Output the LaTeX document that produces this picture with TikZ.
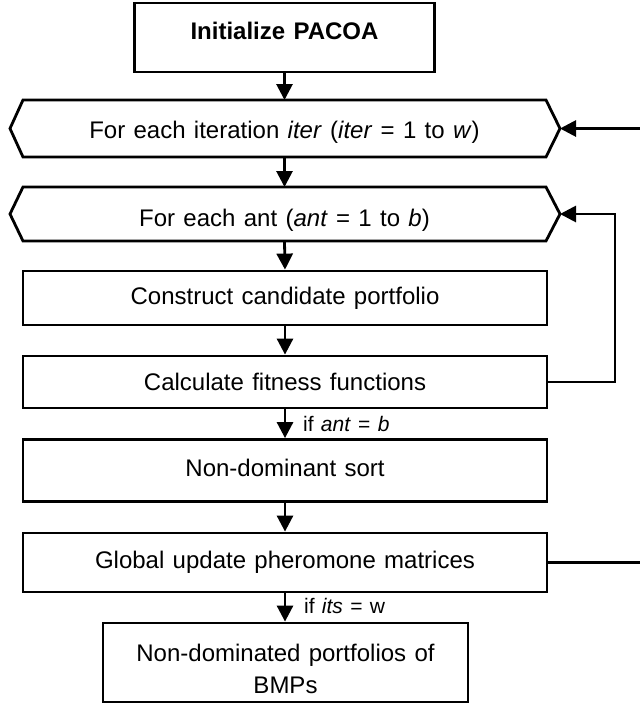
\documentclass[tikz,border=0pt]{standalone}
\usepackage{fontspec}
\setmainfont{Liberation Sans}[WordSpace=1.25]
\usetikzlibrary{arrows.meta,calc}
\newcommand\moveup[2]{\raisebox{0pt}[\height][\dimexpr\depth+#1\relax]{#2}}
\newcommand\movedown[2]{\raisebox{0pt}[\dimexpr\height+#1\relax][\depth]{#2}}
\begin{document}
\begin{tikzpicture}[x=1pt,y=-1pt,
  box/.style={draw,line width=2.8pt,rectangle,inner sep=0pt,align=center,font=\fontsize{24}{32}\selectfont},
  hexnode/.style={inner sep=0pt,outer sep=0pt,font=\fontsize{24}{30}\selectfont},
  arr/.style={line width=2.8pt,-{Triangle[width=16pt,length=16pt]}},
  conn/.style={line width=2.8pt},
  lab/.style={anchor=west,inner sep=0pt,font=\fontsize{21}{25}\selectfont}]
\useasboundingbox (0,0) rectangle (640,705);
\node[box,minimum width=300pt,minimum height=69pt] (init) at (284.5,37.5) {\moveup{13pt}{\bfseries Initialize PACOA}};
\node[hexnode,minimum width=523pt,minimum height=57pt] (iter) at (284.5,128.5) {\movedown{7pt}{For each iteration \textit{iter} (\textit{iter} = 1 to \textit{w})}};
\coordinate (iterR) at ($(iter.east)+(14,0)$);
\coordinate (iterL) at ($(iter.west)+(-13,0)$);
\draw[conn,line join=miter] (iter.north west) -- (iter.north east) -- (iterR) -- (iter.south east) -- (iter.south west) -- (iterL) -- cycle;
\node[hexnode,minimum width=523pt,minimum height=54pt] (ant) at (284.5,214) {\movedown{13pt}{For each ant (\textit{ant} = 1 to \textit{b})}};
\coordinate (antR) at ($(ant.east)+(14,0)$);
\coordinate (antL) at ($(ant.west)+(-13,0)$);
\draw[conn,line join=miter] (ant.north west) -- (ant.north east) -- (antR) -- (ant.south east) -- (ant.south west) -- (antL) -- cycle;
\node[box,minimum width=524pt,minimum height=54pt] (cons) at (285,298) {Construct candidate portfolio};
\node[box,minimum width=524pt,minimum height=52pt] (calc) at (285,382) {Calculate fitness functions};
\node[box,minimum width=524pt,minimum height=62pt] (sort) at (285,470.5) {\moveup{5pt}{Non-dominant sort}};
\node[box,minimum width=524pt,minimum height=59pt] (glob) at (285,562.5) {Global update pheromone matrices};
\node[box,minimum width=365pt,minimum height=79pt] (final) at (285.5,662.5) {\raisebox{-15pt}[0pt][0pt]{\begin{tabular}{@{}c@{}}Non-dominated portfolios of\\BMPs\end{tabular}}};
\draw[arr] (init.south) -- (iter.north);
\draw[arr] (iter.south) -- (ant.north);
\draw[arr] (ant.south) -- (cons.north);
\draw[arr] (cons.south) -- (calc.north);
\draw[arr] (calc.south) -- (sort.north);
\draw[arr] (sort.south) -- (glob.north);
\draw[arr] (glob.south) -- (glob.south |- final.north);
\node[lab] (lab1) at (303,424) {if \textit{ant} = \textit{b}};
\node[lab] (lab2) at (304,606) {if \textit{its} = w};
\coordinate (r1) at (615,300);
\draw[arr] (calc.east) -- (calc.east -| r1) -- (r1 |- antR) -- (antR);
\coordinate (e1) at (640,128.5);
\draw[arr] (e1) -- (iterR);
\coordinate (e2) at (640,562.5);
\draw[conn] (glob.east) -- (e2);
\end{tikzpicture}
\end{document}
